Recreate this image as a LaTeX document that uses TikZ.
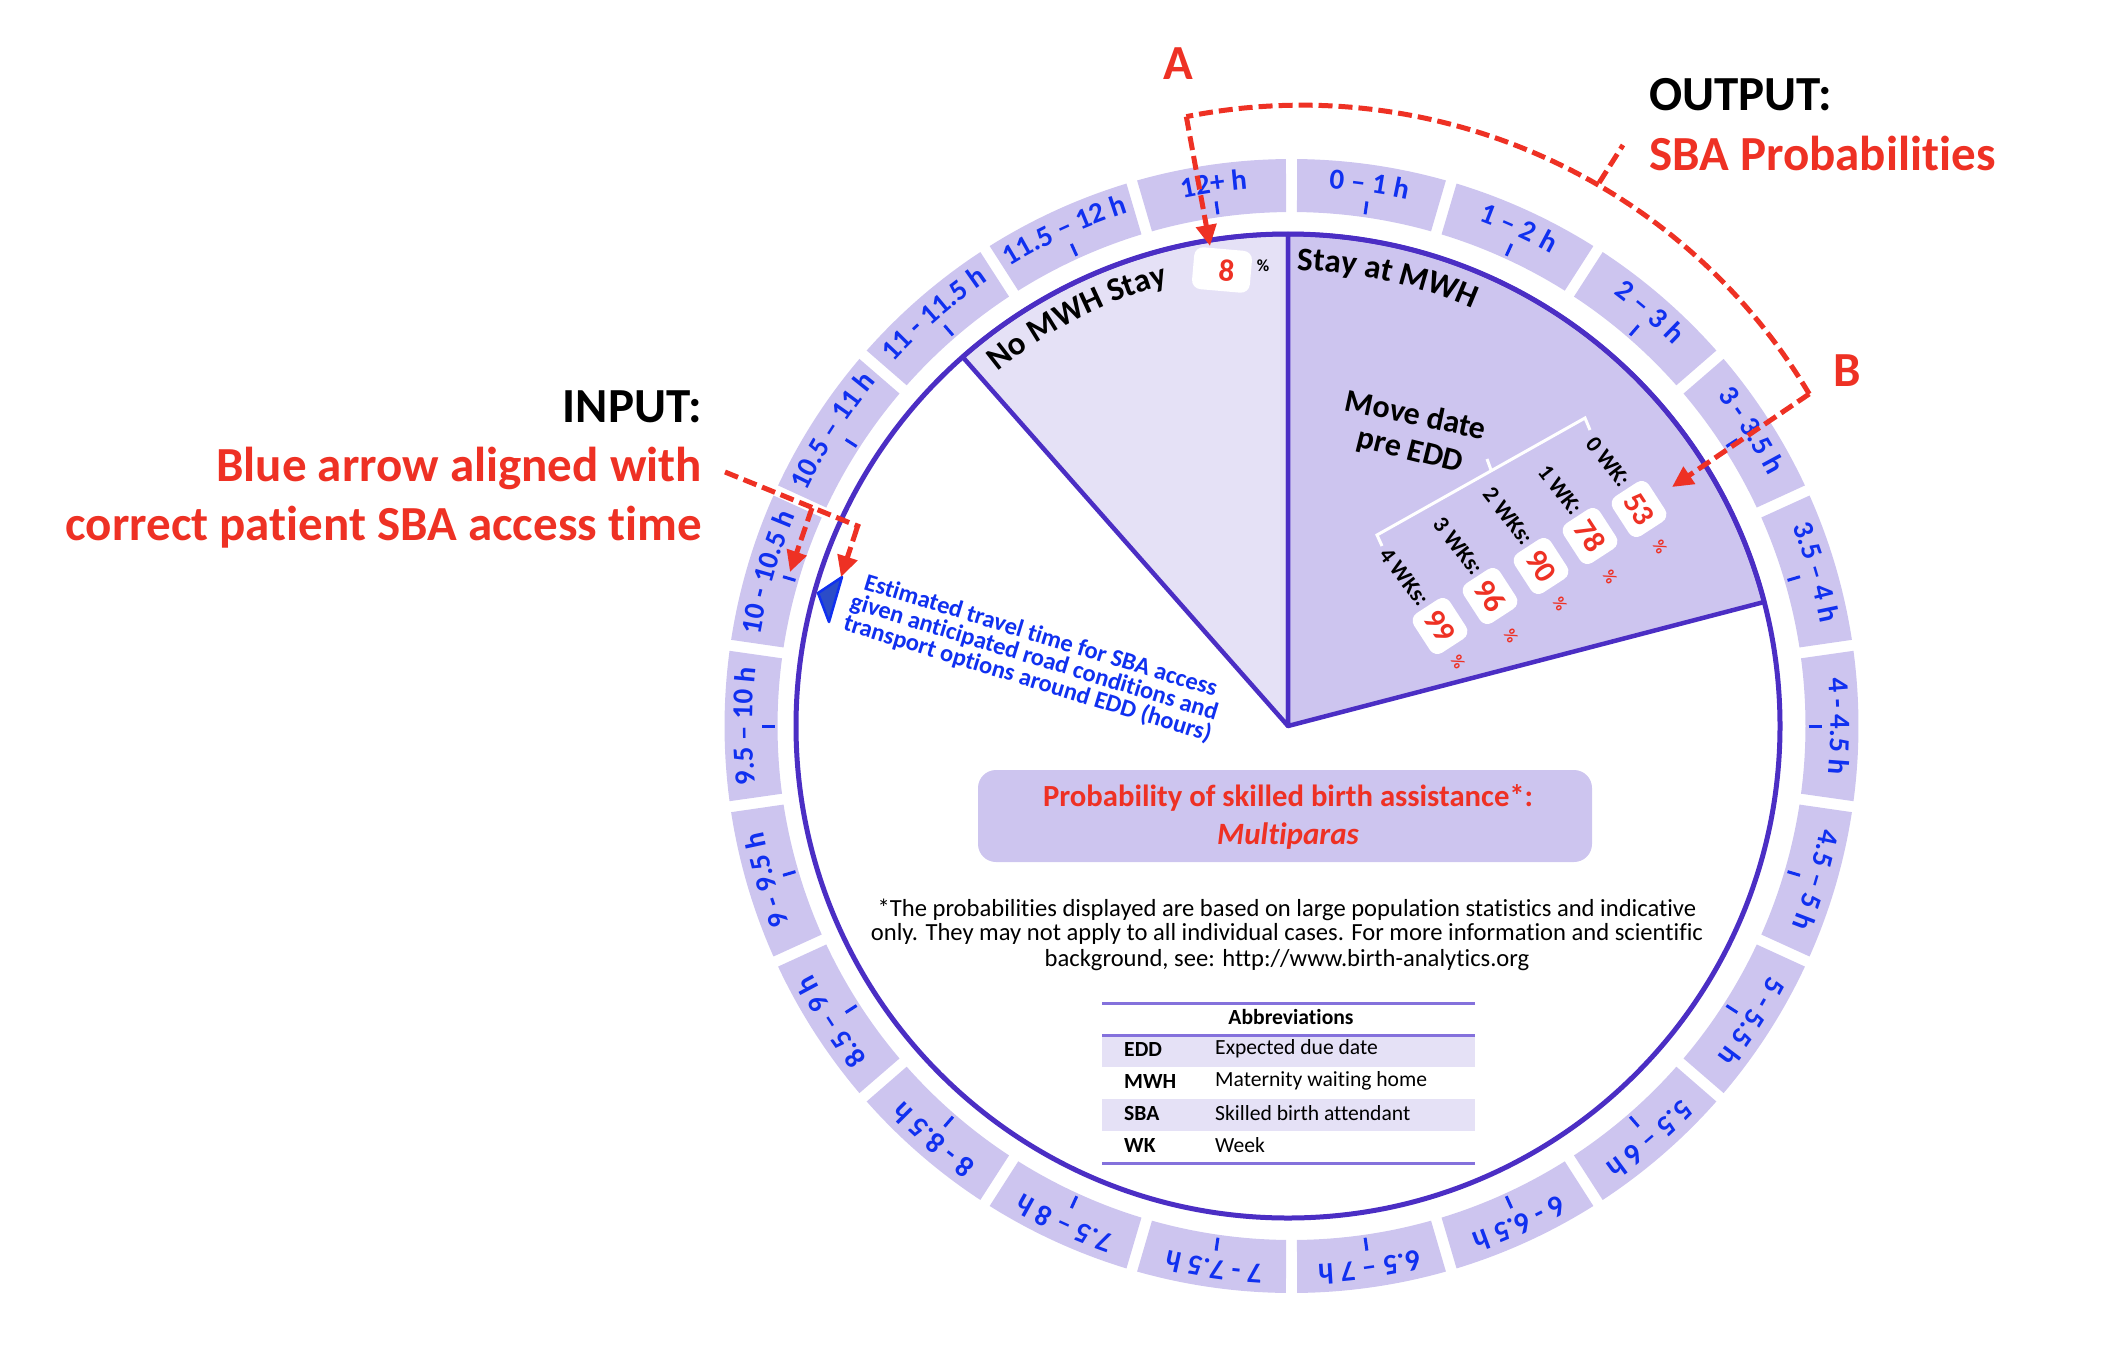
\documentclass[tikz,border=0pt]{standalone}
\usepackage{fontspec}
\setmainfont[RawFeature={-liga}]{Carlito}
\usetikzlibrary{arrows.meta,decorations.text}
\definecolor{ringfill}{HTML}{CDC5EF}
\definecolor{lightfill}{HTML}{E5E1F6}
\definecolor{edgeviolet}{HTML}{4B2EC4}
\definecolor{ruleviolet}{HTML}{8471DC}
\definecolor{bluetxt}{HTML}{1030F0}
\definecolor{redtxt}{HTML}{EE3124}
\definecolor{markfill}{HTML}{2B4CC8}
\newcommand{\fsz}[1]{\fontsize{#1}{#1}\selectfont}
\tikzset{
  reddash/.style={draw=redtxt,line width=5pt,dash pattern=on 14pt off 6pt,
    arrows={-{Stealth[length=21pt,width=20pt,inset=0pt,color=redtxt]}}},
  redplain/.style={draw=redtxt,line width=5pt,dash pattern=on 14pt off 6pt},
  wedge/.style={draw=edgeviolet,line width=4.5pt,line join=round},
  tick/.style={draw=bluetxt,line width=3pt},
  wbox/.style={fill=white,rounded corners=9pt,rotate=-57,minimum width=47pt,minimum height=43pt,inner sep=0pt,text=redtxt,font=\bfseries\fsz{31}},
  wklab/.style={rotate=-52,inner sep=0pt,font=\bfseries\fsz{23}},
  pct/.style={rotate=-60,inner sep=0pt,text=redtxt,font=\bfseries\fsz{17}},
  headbig/.style={inner sep=0pt,font=\bfseries\fsz{49}},
  tabt/.style={inner sep=0pt,anchor=west,font=\fsz{21.6}},
  tabb/.style={inner sep=0pt,anchor=west,font=\bfseries\fsz{21.6}},
  rulel/.style={draw=ruleviolet,line width=3pt},
  bracket/.style={draw=white,line width=3pt,line join=miter},
}
% k, label
\newcommand{\ringseg}[2]{%
  \pgfmathsetmacro\aS{90-#1*360/22}%
  \pgfmathsetmacro\aE{\aS-360/22}%
  \pgfmathsetmacro\aC{\aS-180/22}%
  \fill[ringfill] (\aS-0.61:514) arc[start angle=\aS-0.61,end angle=\aE+0.61,radius=514pt]
     -- (\aE+0.56:567) arc[start angle=\aE+0.56,end angle=\aS-0.56,radius=567pt] -- cycle;
  \draw[tick] (\aC:517) -- (\aC:530);
  \path[decorate,decoration={text along path,text align=center,raise=0pt,
      text={|\bfseries\fsz{29}\color{bluetxt}|#2}}]
     (\aS:539) arc[start angle=\aS,end angle=\aE,radius=539pt];
}
\begin{document}
\begin{tikzpicture}[x=1pt,y=-1pt]
\useasboundingbox (0,0) rectangle (2106,1346);
\begin{scope}[shift={(1291.5,726)},y=1pt]
  \ringseg{0}{0 – 1 h}
  \ringseg{1}{1 – 2 h}
  \ringseg{2}{2 – 3 h}
  \ringseg{3}{3 - 3.5 h}
  \ringseg{4}{3.5 – 4 h}
  \ringseg{5}{4 - 4.5 h}
  \ringseg{6}{4.5 – 5 h}
  \ringseg{7}{5 - 5.5 h}
  \ringseg{8}{5.5 – 6 h}
  \ringseg{9}{6 - 6.5 h}
  \ringseg{10}{6.5 – 7 h}
  \ringseg{11}{7 - 7.5 h}
  \ringseg{12}{7.5 – 8 h}
  \ringseg{13}{8 - 8.5 h}
  \ringseg{14}{8.5 – 9 h}
  \ringseg{15}{9 - 9.5 h}
  \ringseg{16}{9.5 – 10 h}
  \ringseg{17}{10 - 10.5 h}
  \ringseg{18}{10.5 – 11 h}
  \ringseg{19}{11 - 11.5 h}
  \ringseg{20}{11.5 – 12 h}
  \ringseg{21}{12+ h}
\end{scope}
\begin{scope}[shift={(1288,726)},y=1pt]
  % wedges
  \filldraw[wedge,fill=lightfill] (0,0) -- (131.4:492) arc[start angle=131.4,end angle=90,radius=492pt] -- cycle;
  \filldraw[wedge,fill=ringfill] (0,0) -- (90:492) arc[start angle=90,end angle=14.6,radius=492pt] -- cycle;
  \draw[draw=edgeviolet,line width=5pt] (0,0) circle[radius=492pt];
  % curved wedge titles
  \path[decorate,decoration={text along path,text align=center,text={|\bfseries\fsz{33}|No MWH Stay}}]
    (130.5:458) arc[start angle=130.5,end angle=104,radius=458pt];
  \path[decorate,decoration={text along path,text align=center,text={|\bfseries\fsz{33}|Stay at MWH}}]
    (89.5:456) arc[start angle=89.5,end angle=65.5,radius=456pt];
  % red connector anchors on the outer arc
  \coordinate (cornerB) at (32.5:618);
  \coordinate (stubS) at (60.2:626);
\end{scope}

% percentages
\node[fill=white,rounded corners=9pt,rotate=-5,minimum width=58pt,minimum height=42pt,inner sep=0pt,text=redtxt,font=\bfseries\fsz{31}] (b8) at (1222,270) {\hspace*{9pt}8};
\node[inner sep=0pt,font=\bfseries\fsz{17}] (p8) at (1263,266) {\%};

\node[inner sep=0pt,rotate=-12,font=\bfseries\fsz{32}] (mv1) at (1416,414) {Move date};
\node[inner sep=0pt,rotate=-14,font=\bfseries\fsz{32}] (mv2) at (1410,452) {pre EDD};

\coordinate (brA) at (1585,418);
\coordinate (brB) at (1377,535);
\coordinate (brA2) at (1590,430);
\coordinate (brB2) at (1382,546);
\coordinate (brM) at (1491,470);
\coordinate (brM2) at (1487,459);
\draw[bracket] (brA2) -- (brA) -- (brB) -- (brB2);
\draw[bracket] (brM) -- (brM2);

\node[wklab] (w0) at (1608,462) {0 WK:};
\node[wklab] (w1) at (1560,490) {1 WK:};
\node[wklab] (w2) at (1508,516) {2 WKs:};
\node[wklab] (w3) at (1458,546) {3 WKs:};
\node[wklab] (w4) at (1404,577) {4 WKs:};
\node[wbox] (v0) at (1639,509) {53};
\node[wbox] (v1) at (1590,536) {78};
\node[wbox] (v2) at (1541,566) {90};
\node[wbox] (v3) at (1490,596) {96};
\node[wbox] (v4) at (1440,626) {99};
\node[pct] (q0) at (1660,547) {\%};
\node[pct] (q1) at (1610,577) {\%};
\node[pct] (q2) at (1560,604) {\%};
\node[pct] (q3) at (1511,636) {\%};
\node[pct] (q4) at (1458,662) {\%};

% blue arrow marker and text
\coordinate (m1) at (842,577);
\coordinate (m2) at (818,593);
\coordinate (m3) at (829,622);
\draw[draw=bluetxt,fill=markfill,line width=2.5pt,line join=round] (m1) -- (m2) -- (m3) -- cycle;
\node[inner sep=0pt,rotate=-17,align=center,text=bluetxt,font=\bfseries\fontsize{24.5}{22.5}\selectfont] (est) at (1034,658)
  {Estimated travel time for SBA access\\given anticipated road conditions and\\transport options around EDD (hours)};

% central box
\node[fill=ringfill,rounded corners=18pt,minimum width=614pt,minimum height=92pt,inner sep=0pt] (titlebox) at (1285,816) {};
\node[inner sep=0pt,text=redtxt,font=\bfseries\fsz{30.7}] (t1) at (1288,798) {Probability of skilled birth assistance*:};
\node[inner sep=0pt,text=redtxt,font=\bfseries\itshape\fsz{31}] (t2) at (1288,836) {Multiparas};

% footnote
\node[inner sep=0pt,font=\fsz{24.6}] (f1) at (1287,910) {*The probabilities displayed are based on large population statistics and indicative};
\node[inner sep=0pt,font=\fsz{24.6}] (f2) at (1287,934) {only. They may not apply to all individual cases. For more information and scientific};
\node[inner sep=0pt,font=\fsz{24.6}] (f3) at (1287,960) {background, see: http://www.birth-analytics.org};

% abbreviation table
\fill[lightfill] (1102,1035) rectangle (1475,1067);
\fill[lightfill] (1102,1099) rectangle (1475,1131);
\draw[rulel] (1102,1003) -- (1475,1003);
\draw[rulel] (1102,1035) -- (1475,1035);
\draw[rulel] (1102,1163) -- (1475,1163);
\node[inner sep=0pt,font=\bfseries\fsz{21.6}] (ab) at (1291,1017) {Abbreviations};
\node[tabb] (a1) at (1124,1049) {EDD};
\node[tabt] (d1) at (1215,1049) {Expected due date};
\node[tabb] (a2) at (1124,1081) {MWH};
\node[tabt] (d2) at (1215,1081) {Maternity waiting home};
\node[tabb] (a3) at (1124,1113) {SBA};
\node[tabt] (d3) at (1215,1113) {Skilled birth attendant};
\node[tabb] (a4) at (1124,1145) {WK};
\node[tabt] (d4) at (1215,1145) {Week};

% headings
\node[headbig,text=redtxt] (lA) at (1178,64) {A};
\node[headbig,text=redtxt] (lB) at (1847,371) {B};
\node[headbig,anchor=west] (out1) at (1649,95) {OUTPUT:};
\node[headbig,anchor=west,text=redtxt] (out2) at (1649,153) {SBA Probabilities};
\node[headbig,anchor=east] (in1) at (702,407) {INPUT:};
\node[headbig,anchor=east,text=redtxt] (in2) at (702,468) {Blue arrow aligned with};
\node[headbig,anchor=east,text=redtxt] (in3) at (702,527) {correct patient SBA access time};

% red connectors
\coordinate (tipA) at (1210,246);
\coordinate (tipB) at (1672,487);
\coordinate (stubE) at (1623,145);
\coordinate (inS) at (725,472);
\coordinate (inE) at (860,527);
\coordinate (inM) at (812,508);
\coordinate (tipC) at (790,572);
\coordinate (inN) at (857,528);
\coordinate (tipD) at (841,577);
\draw[reddash] (cornerB) -- (tipB);
\draw[redplain] (cornerB) arc[start angle=30.7,end angle=101.3,radius=590pt] coordinate (cornerA);
\draw[reddash] (cornerA) -- (tipA);
\draw[redplain] (stubS) -- (stubE);
\draw[redplain] (inS) -- (inE);
\draw[reddash] (inM) -- (tipC);
\draw[reddash] (inN) -- (tipD);
\end{tikzpicture}
\end{document}
